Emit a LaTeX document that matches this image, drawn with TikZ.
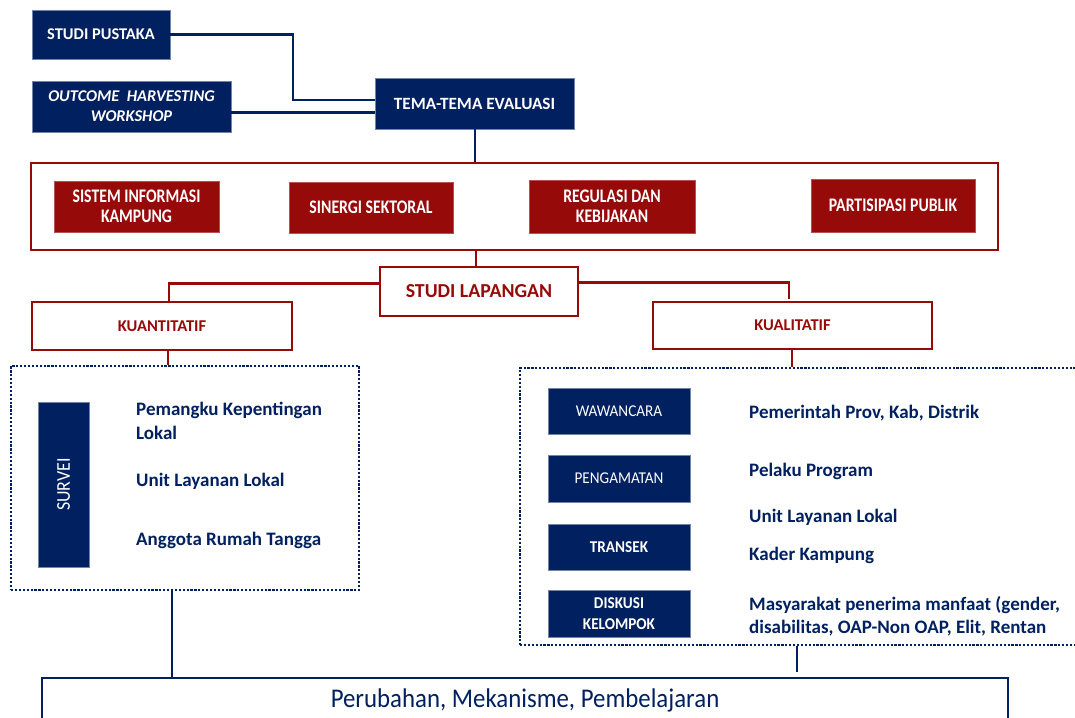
\documentclass[tikz,border=0pt]{standalone}
\usepackage{fontspec}
\setmainfont{Carlito}
\newfontfamily\condfont{Carlito}[FakeStretch=0.82]
\newfontfamily\semifont{Carlito}[FakeStretch=0.92]
\definecolor{navy}{RGB}{0,32,96}
\definecolor{dred}{RGB}{150,10,10}
\tikzset{
  navybox/.style={fill=navy, draw=navy!55!white, line width=0.6pt, text=white, inner sep=0pt, align=center},
  redbox/.style={fill=dred, draw=dred!70!white, line width=0.6pt, text=white, inner sep=0pt, align=center,
     font=\condfont\bfseries\fontsize{19.2}{20.5}\selectfont},
  redframe/.style={draw=dred, line width=2.6pt, fill=white, inner sep=0pt, text=dred, align=center},
  navyline/.style={draw=navy, line width=2.4pt},
  redline/.style={draw=dred, line width=2.6pt},
  dotbox/.style={draw=navy, line width=2.4pt, dash pattern=on 2.2pt off 1.7pt},
  bluetext/.style={text=navy, font=\bfseries\fontsize{19}{24}\selectfont, inner sep=0pt, align=left, anchor=west},
  method/.style={navybox, minimum width=142pt, font=\semifont\fontsize{16.5}{21}\selectfont},
  methodb/.style={navybox, minimum width=142pt, font=\semifont\bfseries\fontsize{16.5}{21}\selectfont},
}
\begin{document}
\begin{tikzpicture}[x=1pt,y=-1pt]
\useasboundingbox (0,0) rectangle (1075,717);
\clip (0,0) rectangle (1075,717);
\fill[white] (0,0) rectangle (1075,717);

% top boxes
\node[navybox, minimum width=138pt, minimum height=49pt, font=\bfseries\fontsize{16.4}{20}\selectfont] (sp) at (101,34.5) {STUDI PUSTAKA};
\node[navybox, minimum width=199pt, minimum height=51pt, font=\bfseries\itshape\fontsize{16.4}{20}\selectfont] (oh) at (131.5,106.5) {OUTCOME\ \ HARVESTING\\WORKSHOP};
\node[navybox, minimum width=199pt, minimum height=51pt, font=\bfseries\fontsize{17.2}{20}\selectfont] (tema) at (474.5,103.5) {TEMA-TEMA EVALUASI};

\coordinate (j1) at (293,100);
\coordinate (y112) at (0,112.5);
\draw[navyline] (sp.east) -| (j1) -- (j1 -| tema.west);
\draw[navyline] (oh.east |- y112) -- (tema.west |- y112);

% themes frame
\node[redframe, minimum width=967pt, minimum height=87pt] (themes) at (514.5,206.5) {};
\draw[navyline] (tema.south -| 475,0) -- (themes.north -| 475,0);
\node[redbox, minimum width=165pt, minimum height=51pt] (sik) at (136.5,206.5) {SISTEM INFORMASI\\KAMPUNG};
\node[redbox, minimum width=164pt, minimum height=51pt] (ss) at (371,207.5) {SINERGI SEKTORAL};
\node[redbox, minimum width=166pt, minimum height=53pt] (rdk) at (612,206.5) {REGULASI DAN\\KEBIJAKAN};
\node[redbox, minimum width=164pt, minimum height=53pt] (pp) at (893,205.5) {PARTISIPASI PUBLIK};

% studi lapangan
\node[redframe, minimum width=198pt, minimum height=49pt, font=\bfseries\fontsize{19.8}{22}\selectfont] (sl) at (479,291.5) {STUDI LAPANGAN};
\draw[redline] (themes.south -| 476,0) -- (sl.north -| 476,0);
\node[redframe, minimum width=260pt, minimum height=48pt, font=\bfseries\fontsize{16.5}{20}\selectfont] (kuan) at (162,326) {KUANTITATIF};
\node[redframe, minimum width=279pt, minimum height=47pt, font=\bfseries\fontsize{16.5}{20}\selectfont] (kual) at (792.5,325.5) {KUALITATIF};
\coordinate (y283) at (0,283.5);
\coordinate (y282) at (0,282.5);
\draw[redline] (sl.west |- y283) -| (kuan.north -| 169,0);
\draw[redline] (sl.east |- y282) -| ([yshift=2pt]kual.north -| 789,0);

% dotted boxes
\node[dotbox, minimum width=348pt, minimum height=224pt, inner sep=0pt] (dl) at (185,478) {};
\node[dotbox, minimum width=580pt, minimum height=277pt, inner sep=0pt] (dr) at (810,506.5) {};
\draw[redline] (kuan.south -| 168,0) -- (dl.north -| 168,0);
\draw[redline] (kual.south -| 792,0) -- (dr.north -| 792,0);

% left content
\node[navybox, minimum width=51pt, minimum height=165pt] (sv) at (63.5,484.5) {};
\node[text=white, rotate=90, font=\semifont\fontsize{19.5}{22}\selectfont, inner sep=0pt] (svt) at (sv.center) {SURVEI};
\node[bluetext] (l1) at (136,421) {Pemangku Kepentingan\\Lokal};
\node[bluetext] (l2) at (136,481) {Unit Layanan Lokal};
\node[bluetext] (l3) at (136,540) {Anggota Rumah Tangga};

% right content
\node[method, minimum height=46pt] (waw) at (619,411) {WAWANCARA};
\node[method, minimum height=47pt] (peng) at (619,478.5) {PENGAMATAN};
\node[methodb, minimum height=46pt] (tran) at (619,547) {TRANSEK};
\node[methodb, minimum height=47pt] (disk) at (619,613.5) {DISKUSI\\KELOMPOK};
\node[bluetext] (r1) at (749,413) {Pemerintah Prov, Kab, Distrik};
\node[bluetext] (r2) at (749,471) {Pelaku Program};
\node[bluetext] (r3) at (749,517) {Unit Layanan Lokal};
\node[bluetext] (r4) at (749,555) {Kader Kampung};
\node[bluetext, font=\bfseries\fontsize{19}{23}\selectfont] (r5) at (749,616.5) {Masyarakat penerima manfaat (gender,\\disabilitas, OAP-Non OAP, Elit, Rentan};

% bottom box
\node[draw=navy, line width=2.6pt, fill=white, minimum width=966pt, minimum height=70pt, inner sep=0pt] (bot) at (525,713) {};
\node[text=navy, font=\semifont\fontsize{27}{30}\selectfont, inner sep=0pt] (bott) at (525,700) {Perubahan, Mekanisme, Pembelajaran};
\draw[navyline] (dl.south -| 172,0) -- (bot.north -| 172,0);
\draw[navyline] (dr.south -| 797,0) -- ([yshift=5pt]bot.north -| 797,0);
\end{tikzpicture}
\end{document}
